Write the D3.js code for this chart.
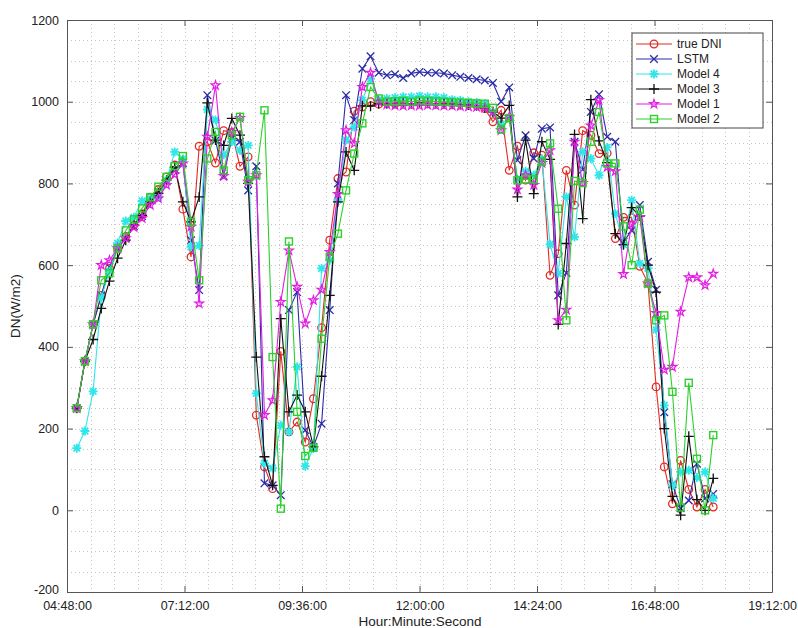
<!DOCTYPE html>
<html>
<head>
<meta charset="utf-8">
<script src="https://cdn.jsdelivr.net/npm/d3@7"></script>
<style>
  html, body { margin: 0; padding: 0; background: #fff; }
  svg { display: block; font-family: "Liberation Sans", Arial, Helvetica, sans-serif; }
</style>
</head>
<body>
<svg id="chart" width="798" height="628"></svg>
<script>
// Sampling: one reading every 10 minutes from 05:00 to 18:00
const sampleStart = "05:00";
const sampleEnd = "18:00";
const sampleStepMinutes = 10;

// Irradiance series (W/m2), one value per sample
const trueDNI = [250,365,455,526,592,641,670,698,725,766,785,816,845,737,620,891,902,850,929,925,
  842,865,233,106,53,389,192,216,167,273,447,661,812,828,977,987,1000,994,997,995,
  1003,1000,1003,1001,1000,999,998,997,995,991,983,951,979,832,891,808,875,869,575,628,
  832,747,929,918,873,874,665,717,716,597,556,302,106,16,122,51,8,51,8];
const lstm = [250,365,455,526,595,641,666,695,720,760,780,805,835,850,661,539,1016,905,818,910,
  902,783,842,66,61,37,490,534,196,155,212,490,800,1016,955,1081,1111,1071,1065,1067,
  1058,1069,1073,1071,1071,1069,1065,1061,1058,1055,1052,1046,1000,1035,857,918,861,934,937,526,
  581,902,834,975,1018,914,902,657,685,747,608,540,240,64,5,24,114,29,40];
const model4 = [152,194,291,520,585,654,708,717,757,764,767,808,877,860,645,648,981,955,870,902,
  881,893,286,115,103,208,192,351,108,151,592,612,760,906,938,1004,1056,1005,1008,1010,
  1012,1012,1014,1012,1012,1010,1005,1003,1000,998,995,975,945,960,810,830,820,860,651,580,
  767,669,877,861,820,888,726,650,759,604,592,442,257,60,94,98,80,94,29];
const model3 = [250,365,418,494,561,617,661,698,722,755,776,808,840,755,706,767,997,906,893,959,
  918,800,375,131,61,469,241,282,241,155,328,526,755,877,832,990,989,995,995,996,
  996,995,997,996,995,995,994,993,992,990,985,975,960,991,767,906,775,902,859,455,
  653,920,714,1005,904,851,677,650,741,720,600,534,200,34,-12,181,26,0,78];
const model1 = [250,365,455,600,612,641,666,693,715,747,763,796,822,849,694,506,914,1040,818,926,
  960,804,820,233,269,510,636,547,457,514,540,632,774,930,898,1036,1071,1000,993,991,
  990,991,990,992,991,990,990,989,988,987,985,975,930,963,785,820,796,850,881,465,
  491,902,801,942,1004,840,830,578,700,718,555,483,344,351,486,570,570,551,579];
const model2 = [250,365,455,563,580,641,685,712,739,766,792,816,842,867,706,563,861,926,832,918,
  963,808,820,979,375,4,658,241,133,153,420,620,677,783,873,947,1036,1008,1000,1001,
  1002,1000,1003,1002,1001,1000,999,998,997,996,995,985,932,960,808,810,810,853,898,738,
  465,806,801,902,975,849,849,695,600,736,555,465,477,290,7,312,126,0,184];

const seriesNames = ["true DNI", "LSTM", "Model 4", "Model 3", "Model 1", "Model 2"];
const seriesValues = [trueDNI, lstm, model4, model3, model1, model2];
const seriesColors = ["#e42a22", "#2c2ca8", "#2fe6ea", "#111111", "#e21ee2", "#2bd12b"];
const seriesMarkers = ["circle", "cross", "asterisk", "plus", "star", "square"];

// Axis settings
const xTickLabels = ["04:48:00","07:12:00","09:36:00","12:00:00","14:24:00","16:48:00","19:12:00"];
const yTicks = [-200, 0, 200, 400, 600, 800, 1000, 1200];
const xTitle = "Hour:Minute:Second";
const yTitle = "DN(W/m2)";

const parseHM = d3.timeParse("%H:%M:%S");
const parseShort = d3.timeParse("%H:%M");
const times = d3.timeMinute.every(sampleStepMinutes)
  .range(parseShort(sampleStart), d3.timeMinute.offset(parseShort(sampleEnd), 1));
const xTickDates = xTickLabels.map(parseHM);

const svg = d3.select("#chart");
const L = 67, R = 772, T = 20, B = 592;

const x = d3.scaleTime().domain([xTickDates[0], xTickDates[xTickDates.length - 1]]).range([L, R]);
const y = d3.scaleLinear().domain([-200, 1200]).range([B, T]);

// Grid: major and minor dotted lines
const grid = svg.append("g").attr("class", "grid");
const minorX = [];
for (let i = 0; i < xTickDates.length - 1; i++) {
  const a = xTickDates[i], b = xTickDates[i + 1];
  for (let j = 0; j < 5; j++) minorX.push(new Date(+a + (b - a) * j / 5));
}
minorX.shift();
grid.selectAll("line.vx").data(minorX).join("line")
  .attr("x1", d => Math.round(x(d)) + 0.5).attr("x2", d => Math.round(x(d)) + 0.5)
  .attr("y1", T).attr("y2", B)
  .attr("stroke", "#c4c4c4").attr("stroke-width", 1).attr("stroke-dasharray", "1,3");
const minorY = d3.range(-150, 1200, 50);
grid.selectAll("line.hy").data(minorY).join("line")
  .attr("x1", L).attr("x2", R)
  .attr("y1", d => Math.round(y(d)) + 0.5).attr("y2", d => Math.round(y(d)) + 0.5)
  .attr("stroke", "#c4c4c4").attr("stroke-width", 1).attr("stroke-dasharray", "1,3");

// Axes
const fmt = d3.timeFormat("%H:%M:%S");
const xAxis = d3.axisBottom(x).tickValues(xTickDates).tickFormat(fmt).tickSizeInner(-6).tickSizeOuter(0).tickPadding(9);
const yAxis = d3.axisLeft(y).tickValues(yTicks).tickFormat(d => String(d)).tickSizeInner(-6).tickSizeOuter(0).tickPadding(8);

const gx = svg.append("g").attr("transform", `translate(0,${B})`).call(xAxis);
const gy = svg.append("g").attr("transform", `translate(${L},0)`).call(yAxis);
svg.append("g").attr("transform", `translate(0,${T})`)
  .call(d3.axisTop(x).tickValues(xTickDates).tickFormat("").tickSizeInner(-6).tickSizeOuter(0));
svg.append("g").attr("transform", `translate(${R},0)`)
  .call(d3.axisRight(y).tickValues(yTicks).tickFormat("").tickSizeInner(-6).tickSizeOuter(0));
svg.selectAll(".domain").attr("stroke", "#555");
svg.selectAll(".tick line").attr("stroke", "#555");
svg.selectAll(".tick text").attr("font-size", 12.5).attr("fill", "#222")
  .attr("font-family", "'Liberation Sans', Arial, sans-serif");
// lowest y label sits just above the corner, clear of the first time label
gy.selectAll(".tick text").filter(d => d === -200).attr("dy", "0.1em");

// Axis titles
svg.append("text").attr("x", 420).attr("y", 626).attr("text-anchor", "middle")
  .attr("font-size", 13.5).attr("fill", "#222").text(xTitle);
svg.append("text").attr("transform", `translate(20,${(T + B) / 2}) rotate(-90)`)
  .attr("text-anchor", "middle").attr("font-size", 13.5).attr("fill", "#222").text(yTitle);

// Marker drawing
function drawMarker(g, kind, color) {
  const s = 3.8;
  switch (kind) {
    case "circle":
      g.append("circle").attr("r", 3.8).attr("fill", "none").attr("stroke", color).attr("stroke-width", 1.3); break;
    case "cross":
      g.append("path").attr("d", `M${-s},${-s}L${s},${s}M${-s},${s}L${s},${-s}`).attr("stroke", color).attr("stroke-width", 1.3); break;
    case "plus":
      g.append("path").attr("d", `M-5,0L5,0M0,-5L0,5`).attr("stroke", color).attr("stroke-width", 1.3); break;
    case "asterisk":
      g.append("path").attr("d", `M-4.5,0L4.5,0M0,-4.5L0,4.5M-3.3,-3.3L3.3,3.3M-3.3,3.3L3.3,-3.3`)
        .attr("stroke", color).attr("stroke-width", 1.8); break;
    case "star":
      g.append("path").attr("d", d3.symbol(d3.symbolStar, 24)()).attr("fill", "none").attr("stroke", color).attr("stroke-width", 1.2); break;
    case "square":
      g.append("rect").attr("x", -3.5).attr("y", -3.5).attr("width", 7).attr("height", 7)
        .attr("fill", "none").attr("stroke", color).attr("stroke-width", 1.4); break;
  }
}

// Series lines and markers
const line = d3.line().x((d, i) => x(times[i])).y(d => y(d));
const plot = svg.append("g");
seriesValues.forEach((vals, si) => {
  const g = plot.append("g");
  g.append("path").datum(vals).attr("d", line).attr("fill", "none")
    .attr("stroke", seriesColors[si]).attr("stroke-width", 1.1);
  vals.forEach((v, i) => {
    const mg = g.append("g").attr("transform", `translate(${x(times[i])},${y(v)})`);
    drawMarker(mg, seriesMarkers[si], seriesColors[si]);
  });
});

// Legend
const lg = svg.append("g").attr("transform", "translate(632,33)");
lg.append("rect").attr("x", 0).attr("y", 0).attr("width", 131).attr("height", 95)
  .attr("fill", "#fff").attr("stroke", "#444").attr("stroke-width", 1);
seriesNames.forEach((name, i) => {
  const ry = 11 + i * 15;
  const row = lg.append("g").attr("transform", `translate(0,${ry})`);
  row.append("line").attr("x1", 4).attr("x2", 40).attr("y1", 0).attr("y2", 0)
    .attr("stroke", seriesColors[i]).attr("stroke-width", 1.1);
  drawMarker(row.append("g").attr("transform", "translate(22,0)"), seriesMarkers[i], seriesColors[i]);
  row.append("text").attr("x", 45).attr("y", 4).attr("font-size", 12).attr("fill", "#222").text(name);
});
</script>
</body>
</html>
